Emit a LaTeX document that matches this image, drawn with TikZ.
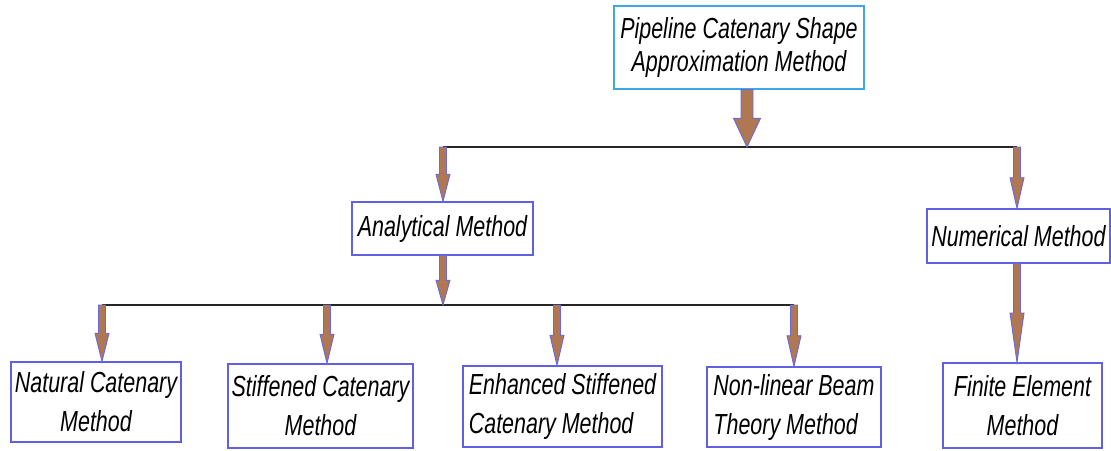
\documentclass[tikz,border=0pt]{standalone}
\usepackage{fontspec}
\newfontfamily\narrowsans[FakeStretch=0.74]{Liberation Sans}
\usetikzlibrary{calc}
\definecolor{boxblue}{RGB}{96,96,224}
\definecolor{topblue}{RGB}{60,168,228}
\definecolor{arrbrown}{RGB}{176,120,82}
\definecolor{arrblue}{RGB}{104,104,224}
\begin{document}
\begin{tikzpicture}[x=1pt,y=-1pt,
  box/.style={draw=boxblue, line width=1.2pt, fill=white, inner sep=2pt,
    font=\narrowsans\itshape\fontsize{29}{39}\selectfont, align=center},
  hline/.style={draw=black!85, line width=2pt},
  fat/.style 2 args={draw=arrblue, line width=0.9pt, fill=arrbrown,
    to path={let \p1=(\tikztostart), \p2=(\tikztotarget),
      \p3=($(\p1)!0.5!(\p2)$) in
      -- (\x1-#1,\y1) -- (\x1-#1,\y3) -- (\x1-#2,\y3) -- (\x2,\y2)
      -- (\x1+#2,\y3) -- (\x1+#1,\y3) -- (\x1+#1,\y1) -- cycle}}]
\useasboundingbox (0,0) rectangle (1111,450);

% nodes
\node[box, draw=topblue, minimum width=250pt, minimum height=83pt,
  font=\narrowsans\itshape\fontsize{29}{33}\selectfont] (top) at (739,47.5)
  {Pipeline Catenary Shape\\Approximation Method};
\node[box, minimum width=181pt, minimum height=53pt] (ana) at (442.5,228.5) {Analytical Method};
\node[box, minimum width=183pt, minimum height=54pt] (num) at (1018.5,236) {Numerical Method};
\node[box, minimum width=170pt, minimum height=80pt] (nat) at (96,402) {Natural Catenary\\Method};
\node[box, minimum width=185pt, minimum height=84pt] (stf) at (320.5,406) {Stiffened Catenary\\Method};
\node[box, minimum width=199pt, minimum height=81pt, align=left] (enh) at (562.5,406.5) {Enhanced Stiffened\\Catenary Method};
\node[box, minimum width=174pt, minimum height=80pt, align=left] (non) at (794,407) {Non-linear Beam\\Theory Method};
\node[box, minimum width=159pt, minimum height=85pt] (fin) at (1022.5,405.5) {Finite Element\\Method};

% junction points
\coordinate (j0) at (747,147);
\coordinate (ja) at (443,147);
\coordinate (jn) at (1017,147);
\coordinate (jb) at (443,305);
\coordinate (jnat) at (102,305);
\coordinate (jstf) at (327,305);
\coordinate (jenh) at (557,305);
\coordinate (jnon) at (794,305);

% lines
\draw[hline] (ja) -- (jn);
\draw[hline] (jnat) -- (jnon);

% arrows
\draw[fat={6pt}{13.5pt}] (top.south -| j0) to (j0);
\draw[fat={3.5pt}{7pt}] (ja) to (ana.north -| ja);
\draw[fat={3.5pt}{7pt}] (jn) to (num.north -| jn);
\draw[fat={3.5pt}{7pt}] (ana.south -| jb) to (jb);
\draw[fat={3.5pt}{7pt}] (num.south -| jn) to (fin.north -| jn);
\draw[fat={3.5pt}{7pt}] (jnat) to (nat.north -| jnat);
\draw[fat={3.5pt}{7pt}] (jstf) to (stf.north -| jstf);
\draw[fat={3.5pt}{7pt}] (jenh) to (enh.north -| jenh);
\draw[fat={3.5pt}{7pt}] (jnon) to (non.north -| jnon);
\end{tikzpicture}
\end{document}
